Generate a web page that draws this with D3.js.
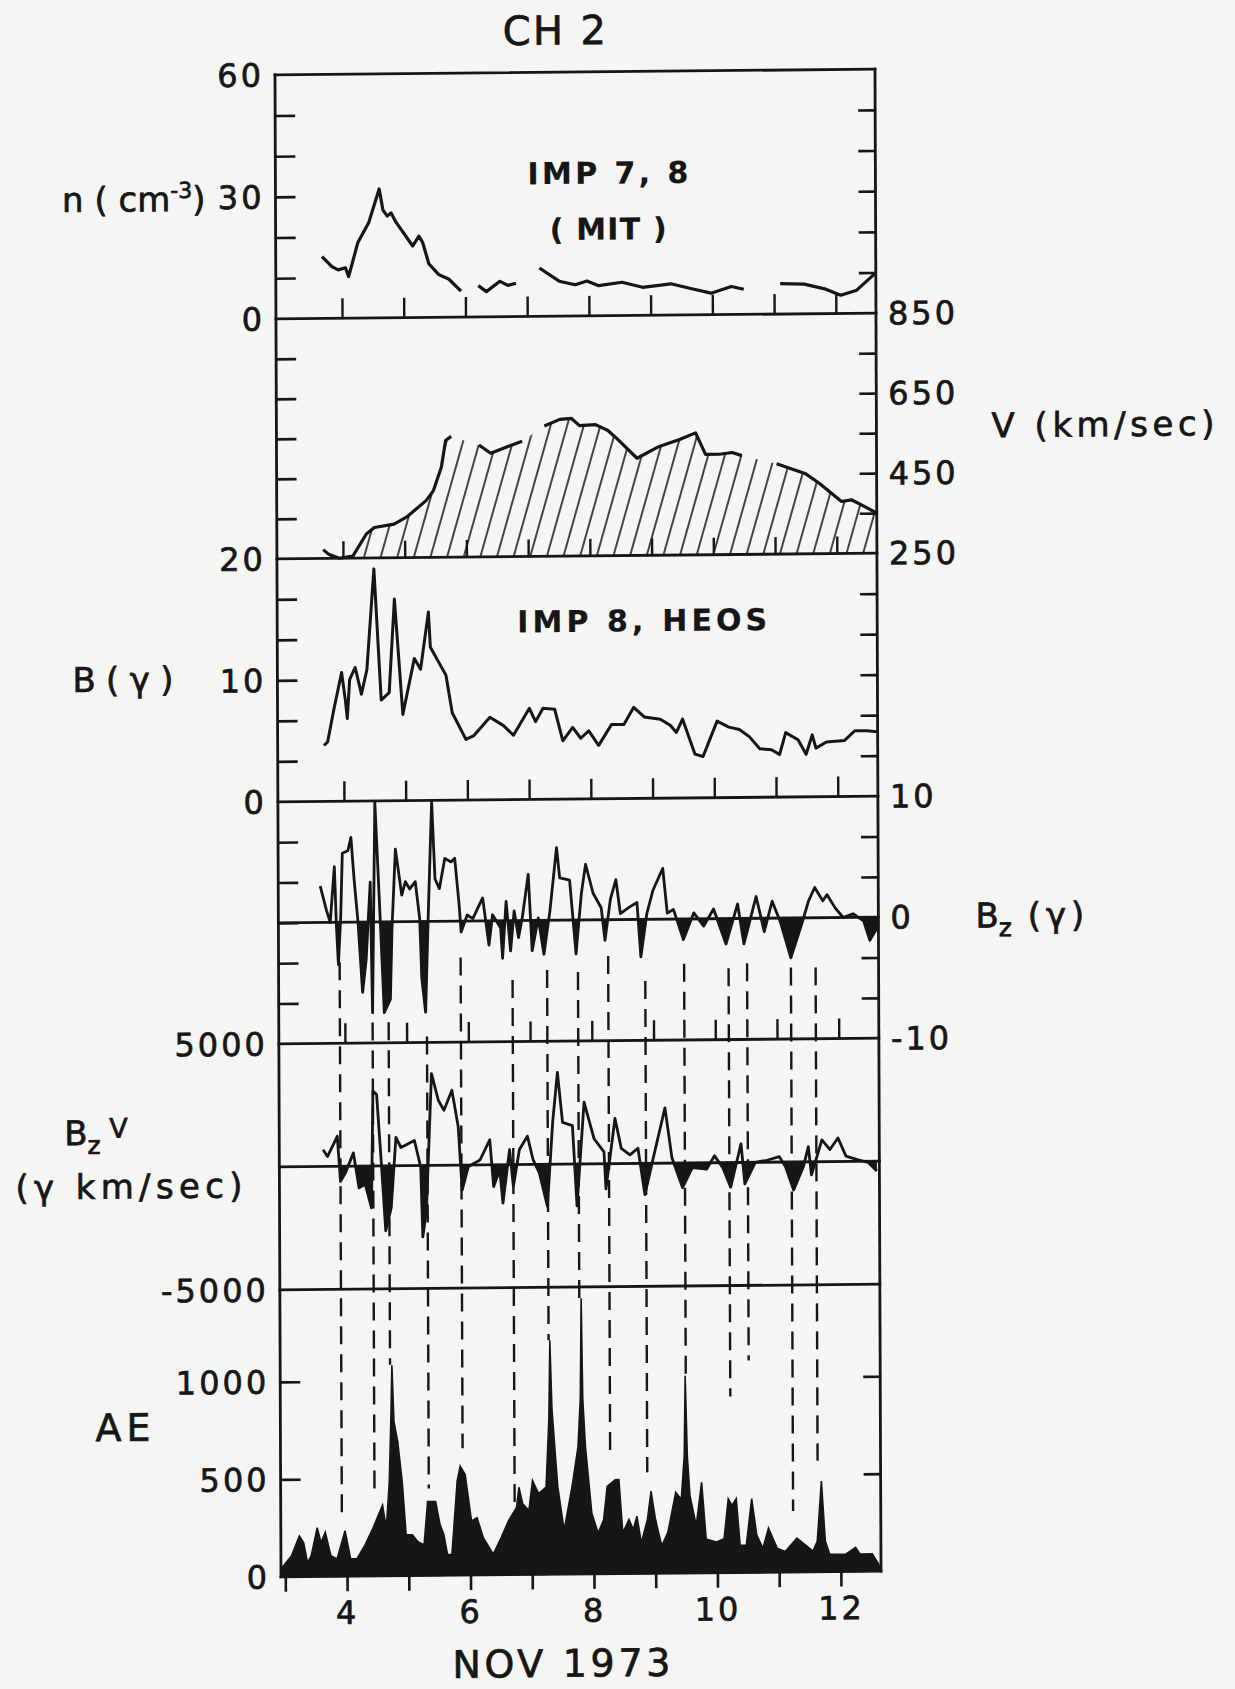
<!DOCTYPE html>
<html>
<head>
<meta charset="utf-8">
<script src="https://cdn.jsdelivr.net/npm/d3@7"></script>
<style>
  body { margin: 0; background: #f5f5f4; }
  svg { display: block; }
  text { font-family: 'DejaVu Sans', sans-serif; fill: #161616; stroke: #161616; stroke-width: 0.7px; }
  .tick-label { font-size: 32px; letter-spacing: 3px; }
  .unit { font-size: 34px; }
  .tag { font-size: 30px; font-weight: bold; stroke-width: 0.2px; }
</style>
</head>
<body>
<svg id="chart" width="1235" height="1689"></svg>
<script>
// values: [day of Nov 1973, value], null marks a data gap
const dayTicks = [3, 4, 5, 6, 7, 8, 9, 10, 11, 12];
const dayLabels = [4, 6, 8, 10, 12];

// proton density n (cm^-3)
const density = [
  [3.68, 15.2], [3.84, 12.7], [3.94, 11.9], [4.06, 12.4], [4.11, 10.2], [4.26, 18.5],
  [4.44, 23.5], [4.61, 31.7], [4.67, 26.5], [4.74, 25.0], [4.80, 25.8], [4.88, 23.5],
  [5.15, 17.6], [5.25, 20.0], [5.31, 18.5], [5.41, 13.2], [5.57, 10.5], [5.73, 9.4],
  [5.93, 6.4], [6.0, null],
  [6.21, 7.7], [6.34, 6.2], [6.56, 8.7], [6.69, 7.7], [6.82, 8.2], [6.9, null],
  [7.2, 11.9], [7.52, 8.6], [7.78, 7.7], [7.97, 8.6], [8.16, 7.4], [8.54, 8.2],
  [8.87, 6.9], [9.33, 7.7], [9.65, 6.5], [9.98, 5.3], [10.31, 6.9], [10.51, 6.2], [10.6, null],
  [11.10, 7.5], [11.49, 7.3], [11.82, 6.1], [12.08, 4.5], [12.34, 5.7], [12.64, 9.8]
];

// solar wind speed V (km/sec)
const speed = [
  [3.68, 272], [3.77, 260], [3.94, 250], [4.16, 255], [4.38, 310], [4.51, 326],
  [4.83, 334], [5.03, 351], [5.35, 392], [5.47, 417], [5.60, 476], [5.67, 542],
  [5.76, 552], [5.9, null],
  [6.21, 530], [6.40, 509], [6.69, 526], [6.91, 538], [7.0, null],
  [7.27, 576], [7.52, 592], [7.71, 594], [7.84, 576], [8.10, 578], [8.30, 563],
  [8.45, 542], [8.77, 493], [9.13, 522], [9.46, 539], [9.72, 555], [9.88, 501],
  [10.11, 501], [10.31, 505], [10.47, 497], [10.6, null],
  [11.03, 476], [11.49, 451], [11.72, 426], [12.08, 380], [12.24, 384], [12.44, 368], [12.64, 351]
];

// field magnitude B (gamma)
const fieldB = [
  [3.68, 4.6], [3.74, 4.9], [3.84, 7.5], [3.97, 10.6], [4.03, 8.3], [4.06, 6.8],
  [4.10, 10.0], [4.19, 11.0], [4.29, 8.8], [4.38, 10.8], [4.50, 19.1], [4.61, 8.3],
  [4.74, 8.9], [4.83, 16.6], [4.96, 7.1], [5.15, 11.7], [5.25, 10.8], [5.38, 15.5],
  [5.41, 12.6], [5.66, 10.3], [5.76, 7.2], [5.98, 5.0], [6.11, 5.3], [6.37, 6.8],
  [6.59, 6.1], [6.75, 5.3], [7.01, 7.5], [7.11, 6.4], [7.23, 7.5], [7.42, 7.4],
  [7.55, 4.8], [7.71, 5.9], [7.84, 5.0], [7.97, 5.6], [8.13, 4.4], [8.34, 6.1],
  [8.54, 6.1], [8.70, 7.5], [8.87, 6.7], [9.13, 6.5], [9.29, 6.0], [9.39, 5.4],
  [9.49, 6.5], [9.69, 3.6], [9.82, 3.4], [10.05, 6.3], [10.24, 5.8], [10.41, 5.6],
  [10.57, 5.0], [10.74, 4.0], [10.93, 3.9], [11.06, 3.5], [11.16, 5.3], [11.36, 4.7],
  [11.49, 3.5], [11.59, 5.1], [11.65, 4.0], [11.82, 4.5], [12.11, 4.6], [12.28, 5.4],
  [12.47, 5.4], [12.64, 5.3]
];

// north-south component Bz (gamma)
const bz = [
  [3.61, 3.0], [3.71, 1.0], [3.77, 0], [3.84, 4.6], [3.87, -0.3], [3.90, -3.5],
  [3.94, 0.5], [3.97, 5.7], [4.06, 5.9], [4.11, 7.0], [4.16, 3.5], [4.22, 0],
  [4.29, -5.8], [4.35, -3.1], [4.42, 3.3], [4.45, -7.5], [4.50, 9.9], [4.58, 0.2],
  [4.64, -7.5], [4.74, -6.4], [4.77, -0.6], [4.83, 6.0], [4.93, 2.2], [4.99, 3.3],
  [5.06, 2.7], [5.15, 3.3], [5.22, 0.2], [5.25, -4.7], [5.31, -7.5], [5.36, 0.8],
  [5.42, 9.9], [5.47, 3.5], [5.54, 2.7], [5.63, 5.2], [5.73, 4.9], [5.79, 5.2],
  [5.86, 1.3], [5.89, -0.9], [5.99, 0.5], [6.08, 0.2], [6.24, 1.9], [6.34, -2.0],
  [6.40, 0.5], [6.53, -0.6], [6.56, -3.1], [6.62, 1.6], [6.69, -2.5], [6.75, 0.8],
  [6.82, -1.4], [6.88, 0.2], [6.98, 3.8], [7.04, -2.5], [7.14, 0.2], [7.23, -2.8],
  [7.33, 0.8], [7.44, 6.0], [7.49, 3.5], [7.65, 3.3], [7.75, -2.8], [7.84, 2.2],
  [7.91, 4.6], [8.03, 2.2], [8.16, 1.0], [8.22, -1.7], [8.31, 1.7], [8.40, 3.3],
  [8.47, 0.5], [8.61, 1.0], [8.74, 1.4], [8.80, -3.1], [8.90, 0.5], [9.00, 2.4],
  [9.16, 4.2], [9.23, 0.5], [9.33, 0.8], [9.49, -1.7], [9.66, 0.5], [9.82, -0.6],
  [9.98, 0.8], [10.18, -2.1], [10.37, 1.2], [10.47, -2.1], [10.67, 1.8], [10.80, -1.1],
  [10.93, 1.4], [11.06, -0.3], [11.23, -3.3], [11.42, -0.3], [11.52, 1.4], [11.62, 2.5],
  [11.75, 1.4], [11.82, 1.9], [11.95, 0.8], [12.08, 0], [12.24, 0.3], [12.41, -0.3],
  [12.51, -1.9], [12.64, -0.8]
];

// Bz * V (gamma km/sec)
const bzV = [
  [3.64, 680], [3.71, 400], [3.87, 1220], [3.92, -610], [4.00, -270], [4.13, 540],
  [4.22, -880], [4.32, -740], [4.42, -1700], [4.45, 3050], [4.51, 2900], [4.58, 200],
  [4.65, -2640], [4.74, -1700], [4.82, 1150], [4.90, 740], [5.12, 1020], [5.22, -70],
  [5.25, -2900], [5.31, -1830], [5.40, 3730], [5.51, 2640], [5.60, 2240], [5.73, 3050],
  [5.83, 1560], [5.89, -1020], [5.99, -70], [6.18, 200], [6.34, 1020], [6.40, -880],
  [6.50, -200], [6.55, -1560], [6.66, 610], [6.72, -880], [6.82, 610], [6.95, 1150],
  [7.04, 200], [7.14, -340], [7.27, -1700], [7.36, 1700], [7.44, 3730], [7.52, 1700],
  [7.68, 1560], [7.75, -1700], [7.87, 2510], [8.03, 1020], [8.19, 480], [8.22, -1020],
  [8.37, 1840], [8.47, 620], [8.61, 350], [8.74, 620], [8.85, -1270], [9.00, 350],
  [9.18, 2250], [9.29, 220], [9.46, -1000], [9.62, -190], [9.85, -260], [9.98, 280],
  [10.11, -190], [10.24, -1000], [10.41, 760], [10.47, -870], [10.64, 0], [10.83, 80],
  [11.03, 220], [11.13, -190], [11.26, -1140], [11.42, -190], [11.50, 620], [11.55, -530],
  [11.72, 890], [11.85, 490], [11.98, 960], [12.11, 220], [12.28, 80], [12.47, -50],
  [12.61, -400]
];

// auroral electrojet index AE (gamma)
const ae = [
  [2.93, 40], [3.01, 72], [3.10, 106], [3.23, 209], [3.30, 174], [3.36, 72], [3.42, 106],
  [3.52, 251], [3.58, 174], [3.65, 226], [3.74, 106], [3.84, 89], [3.97, 234], [4.06, 89],
  [4.16, 89], [4.29, 157], [4.42, 243], [4.51, 311], [4.58, 363], [4.64, 243], [4.69, 482],
  [4.72, 800], [4.74, 1080], [4.77, 790], [4.83, 687], [4.90, 482], [4.96, 209], [5.06, 209],
  [5.15, 174], [5.25, 157], [5.31, 379], [5.44, 379], [5.51, 260], [5.57, 209], [5.63, 106],
  [5.70, 106], [5.79, 482], [5.84, 559], [5.92, 516], [6.02, 277], [6.11, 294], [6.21, 191],
  [6.37, 106], [6.50, 191], [6.62, 277], [6.75, 345], [6.79, 448], [6.85, 363], [6.95, 328],
  [7.01, 482], [7.11, 414], [7.23, 448], [7.28, 800], [7.30, 1200], [7.33, 850], [7.38, 620],
  [7.42, 448], [7.52, 226], [7.65, 448], [7.75, 653], [7.79, 900], [7.81, 1414], [7.83, 900],
  [7.87, 653], [7.97, 311], [8.07, 209], [8.16, 277], [8.22, 448], [8.35, 482], [8.41, 482],
  [8.47, 209], [8.57, 277], [8.64, 226], [8.70, 294], [8.77, 157], [8.87, 277], [8.93, 422],
  [9.00, 277], [9.10, 140], [9.20, 209], [9.33, 414], [9.42, 379], [9.47, 600], [9.49, 1012],
  [9.52, 600], [9.56, 396], [9.66, 243], [9.75, 465], [9.82, 174], [9.98, 157], [10.11, 174],
  [10.18, 379], [10.24, 345], [10.31, 379], [10.37, 140], [10.47, 140], [10.56, 379],
  [10.64, 191], [10.74, 123], [10.83, 226], [10.97, 123], [11.10, 106], [11.29, 174],
  [11.42, 140], [11.55, 106], [11.62, 157], [11.69, 465], [11.75, 157], [11.82, 89],
  [12.08, 89], [12.24, 123], [12.31, 89], [12.51, 89], [12.61, 37], [12.65, 0]
];

// dashed event markers: day, Bz where the dashes start, AE where they stop
const eventDays  = [3.92, 4.45, 4.71, 5.33, 5.88, 6.72, 7.28, 7.78, 8.27, 8.87, 9.50, 10.22, 10.52, 11.23, 11.63];
const eventTopBz = [-3.3, -8.3, -8.3, -9.5, -3.0, -4.9, -4.1, -4.3, -3.0, -5.1, -3.7, -4.1, -3.7, -4.1, -4.1];
const eventEndAE = [313, 446, 1082, 446, 651, 344, 1200, 1414, 600, 518, 1010, 903, 1087, 313, 569];

const ink = '#161616';

// shared time axis, one y scale per stacked panel
const x = d3.scaleLinear().domain([2.93, 12.65]).range([278, 878]);
const [x0, x1] = x.range();

const yN   = d3.scaleLinear().domain([0, 60]).range([316, 72]);
const yV   = d3.scaleLinear().domain([250, 850]).range([556, 316]);
const yB   = d3.scaleLinear().domain([0, 20]).range([799, 556]);
const yBz  = d3.scaleLinear().domain([-10, 10]).range([1041, 799]);
const yBzV = d3.scaleLinear().domain([-5000, 5000]).range([1287, 1041]);
const yAE  = d3.scaleLinear().domain([0, 1472]).range([1574, 1287]);

const svg = d3.select('#chart');
const defs = svg.append('defs');

// the scan is tilted a little: right edge sits a few px higher than the left
const plot = svg.append('g')
  .attr('transform', 'matrix(1,-0.0095,0.004,1,-3.3,5.5)');

defs.append('pattern')
  .attr('id', 'hatch')
  .attr('patternUnits', 'userSpaceOnUse')
  .attr('width', 16)
  .attr('height', 16)
  .attr('patternTransform', 'rotate(16)')
  .append('line')
    .attr('x1', 8).attr('y1', 0)
    .attr('x2', 8).attr('y2', 16)
    .attr('stroke', ink)
    .attr('stroke-width', 1.6);

const line = y => d3.line()
  .defined(d => d[1] != null)
  .x(d => x(d[0]))
  .y(d => y(d[1]));

// ---- dashed event lines (behind everything) ----
plot.append('g')
  .selectAll('line')
  .data(eventDays)
  .join('line')
    .attr('x1', d => x(d))
    .attr('x2', d => x(d))
    .attr('y1', (d, i) => yBz(eventTopBz[i]))
    .attr('y2', (d, i) => yAE(eventEndAE[i]))
    .attr('stroke', ink)
    .attr('stroke-width', 2.4)
    .attr('stroke-dasharray', '18 10');

// ---- n ----
plot.append('path')
  .datum(density)
  .attr('d', line(yN))
  .attr('fill', 'none')
  .attr('stroke', ink)
  .attr('stroke-width', 3.2)
  .attr('stroke-linejoin', 'round');

// ---- V with hatching underneath (hatch runs across the gaps) ----
plot.append('path')
  .datum(speed.filter(d => d[1] != null))
  .attr('d', d3.area().x(d => x(d[0])).y0(yV(250)).y1(d => yV(d[1])))
  .attr('fill', 'url(#hatch)');
plot.append('path')
  .datum(speed)
  .attr('d', line(yV))
  .attr('fill', 'none')
  .attr('stroke', ink)
  .attr('stroke-width', 3.2)
  .attr('stroke-linejoin', 'round');

// ---- B ----
plot.append('path')
  .datum(fieldB)
  .attr('d', line(yB))
  .attr('fill', 'none')
  .attr('stroke', ink)
  .attr('stroke-width', 3)
  .attr('stroke-linejoin', 'round');

// ---- Bz and BzV: black fill below zero, trace on top ----
function signedTrace(data, y, id) {
  defs.append('clipPath')
    .attr('id', id)
    .append('rect')
      .attr('x', x0).attr('width', x1 - x0)
      .attr('y', y(0)).attr('height', y.range()[0] - y(0));

  plot.append('path')
    .datum(data)
    .attr('clip-path', `url(#${id})`)
    .attr('d', d3.area().x(d => x(d[0])).y0(y(0)).y1(d => y(d[1])))
    .attr('fill', ink);

  plot.append('line')
    .attr('x1', x0).attr('x2', x1)
    .attr('y1', y(0)).attr('y2', y(0))
    .attr('stroke', ink)
    .attr('stroke-width', 2.8);

  plot.append('path')
    .datum(data)
    .attr('d', line(y))
    .attr('fill', 'none')
    .attr('stroke', ink)
    .attr('stroke-width', 2.8)
    .attr('stroke-linejoin', 'round');
}
signedTrace(bz, yBz, 'clip-bz');
signedTrace(bzV, yBzV, 'clip-bzv');

// ---- AE ----
plot.append('path')
  .datum(ae)
  .attr('d', d3.area().x(d => x(d[0])).y0(yAE(0)).y1(d => yAE(d[1])))
  .attr('fill', ink)
  .attr('stroke', ink)
  .attr('stroke-width', 1.6);

// ---- frames ----
const edges = [yN.range()[1], yN.range()[0], yV.range()[0], yB.range()[0],
               yBz.range()[0], yBzV.range()[0], yAE.range()[0]];
plot.append('g')
  .selectAll('line')
  .data(edges)
  .join('line')
    .attr('x1', x0).attr('x2', x1)
    .attr('y1', d => d).attr('y2', d => d);
plot.append('g')
  .selectAll('line')
  .data([x0, x1])
  .join('line')
    .attr('x1', d => d).attr('x2', d => d)
    .attr('y1', edges[0]).attr('y2', edges[edges.length - 1]);
plot.selectAll('g > line:not([stroke-dasharray])')
  .attr('stroke', ink)
  .attr('stroke-width', 2.8)
  .attr('stroke-linecap', 'square');

// ---- ticks ----
const sixths = y => d3.range(1, 6).map(i => y.domain()[0] + i * (y.domain()[1] - y.domain()[0]) / 6);

function yTicks(y, values, side, size) {
  const axis = side === 'left' ? d3.axisRight(y) : d3.axisLeft(y);
  plot.append('g')
    .attr('transform', `translate(${side === 'left' ? x0 : x1},0)`)
    .call(axis.tickValues(values).tickSize(size).tickFormat(''))
    .call(g => g.select('.domain').remove())
    .selectAll('line')
      .attr('stroke', ink)
      .attr('stroke-width', 2.6);
}

function xTicks(y, size) {
  plot.append('g')
    .attr('transform', `translate(0,${y})`)
    .call(d3.axisTop(x).tickValues(dayTicks.slice(1)).tickSize(size).tickFormat(''))
    .call(g => g.select('.domain').remove())
    .selectAll('line')
      .attr('stroke', ink)
      .attr('stroke-width', 2.4);
}

[yN, yV, yB, yBz].forEach(y => {
  yTicks(y, sixths(y), 'left', 20);
  yTicks(y, sixths(y), 'right', 17);
  xTicks(y.range()[0], y === yV ? 17 : 20);
});
yTicks(yAE, [500, 1000], 'left', 20);
yTicks(yAE, [500, 1000], 'right', 17);

// bottom day axis
plot.append('g')
  .attr('transform', `translate(0,${yAE(0)})`)
  .call(d3.axisBottom(x)
    .tickValues(dayTicks)
    .tickSize(15)
    .tickPadding(10)
    .tickFormat(d => dayLabels.includes(d) ? d : ''))
  .call(g => g.select('.domain').remove())
  .call(g => g.selectAll('line').attr('stroke', ink).attr('stroke-width', 2.6))
  .call(g => g.selectAll('text').attr('class', 'tick-label').attr('fill', ink))
  .attr('font-size', null)
  .attr('font-family', null);

// ---- tick labels ----
function yLabels(y, values, side) {
  plot.append('g')
    .selectAll('text')
    .data(values)
    .join('text')
      .attr('class', 'tick-label')
      .attr('x', side === 'left' ? x0 - 11 : x1 + 12)
      .attr('y', d => y(d))
      .attr('dy', '0.36em')
      .attr('text-anchor', side === 'left' ? 'end' : 'start')
      .text(d => String(d));
}
yLabels(yN, [0, 30, 60], 'left');
yLabels(yB, [0, 10, 20], 'left');
yLabels(yBzV, [-5000, 5000], 'left');
yLabels(yAE, [0, 500, 1000], 'left');
yLabels(yV, [250, 450, 650, 850], 'right');
yLabels(yBz, [-10, 0, 10], 'right');

// ---- titles and unit labels ----
plot.append('text')
  .attr('x', 506).attr('y', 30).attr('dy', '0.36em')
  .attr('font-size', 40)
  .attr('stroke-width', 0.3)
  .attr('textLength', 103)
  .attr('lengthAdjust', 'spacing')
  .text('CH 2');

plot.append('text')
  .attr('class', 'tag')
  .attr('x', 530).attr('y', 173).attr('dy', '0.36em')
  .attr('textLength', 161)
  .attr('lengthAdjust', 'spacing')
  .text('IMP 7, 8');
plot.append('text')
  .attr('class', 'tag')
  .attr('x', 552).attr('y', 229).attr('dy', '0.36em')
  .attr('textLength', 117)
  .attr('lengthAdjust', 'spacing')
  .text('( MIT )');
plot.append('text')
  .attr('class', 'tag')
  .attr('x', 518).attr('y', 621).attr('dy', '0.36em')
  .attr('textLength', 250)
  .attr('lengthAdjust', 'spacing')
  .text('IMP 8, HEOS');

const nLabel = plot.append('text')
  .attr('class', 'unit')
  .attr('x', 208).attr('y', 195).attr('dy', '0.36em')
  .attr('text-anchor', 'end');
nLabel.append('tspan').text('n ( cm');
nLabel.append('tspan').attr('dy', -13).style('font-size', '22px').text('-3');
nLabel.append('tspan').attr('dy', 13).text(')');

plot.append('text')
  .attr('class', 'unit')
  .attr('x', 993).attr('y', 429).attr('dy', '0.36em')
  .attr('textLength', 223)
  .attr('lengthAdjust', 'spacing')
  .text('V (km/sec)');

plot.append('text')
  .attr('class', 'unit')
  .attr('x', 73).attr('y', 675).attr('dy', '0.36em')
  .attr('textLength', 101)
  .attr('lengthAdjust', 'spacing')
  .text('B(γ)');

const bzLabel = plot.append('text')
  .attr('class', 'unit')
  .attr('x', 975).attr('y', 919).attr('dy', '0.36em');
bzLabel.append('tspan').text('B');
bzLabel.append('tspan').attr('dy', 9).style('font-size', '25px').text('z');
bzLabel.append('tspan').attr('dy', -9).attr('letter-spacing', 5).text(' (γ)');

const bzvLabel = plot.append('text')
  .attr('class', 'unit')
  .attr('x', 63).attr('y', 1128).attr('dy', '0.36em');
bzvLabel.append('tspan').text('B');
bzvLabel.append('tspan').attr('dy', 9).style('font-size', '25px').text('z');
bzvLabel.append('tspan').attr('dy', -16).style('font-size', '27px').text(' V');

plot.append('text')
  .attr('class', 'unit')
  .attr('x', 14).attr('y', 1182).attr('dy', '0.36em')
  .attr('textLength', 227)
  .attr('lengthAdjust', 'spacing')
  .text('(γ km/sec)');

plot.append('text')
  .attr('class', 'unit')
  .style('font-size', '38px')
  .attr('x', 93).attr('y', 1423).attr('dy', '0.36em')
  .attr('textLength', 55)
  .attr('lengthAdjust', 'spacing')
  .text('AE');

plot.append('text')
  .attr('x', 449).attr('y', 1663).attr('dy', '0.36em')
  .attr('font-size', 38)
  .attr('textLength', 218)
  .attr('lengthAdjust', 'spacing')
  .text('NOV 1973');
</script>
</body>
</html>
